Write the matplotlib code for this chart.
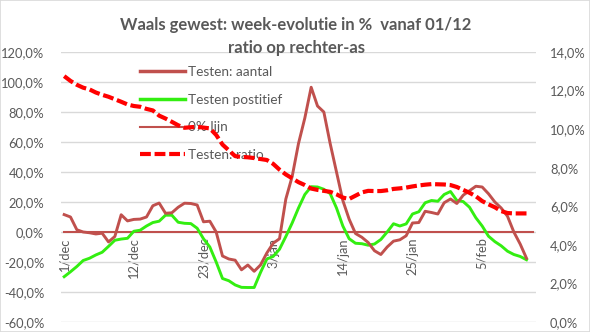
import matplotlib
matplotlib.use("Agg")
import matplotlib.pyplot as plt
from matplotlib.lines import Line2D
from matplotlib.patches import Rectangle
from matplotlib.ticker import FuncFormatter, FixedLocator

plt.rcParams['font.family'] = ['Lato', 'DejaVu Sans']

# dagen vanaf 1 december (75 categorieën, tot 13 februari)
n_days = 75
tick_idx = [0, 11, 22, 33, 44, 55, 66]
tick_labels = ["1/dec", "12/dec", "23/dec", "3/jan", "14/jan", "25/jan", "5/feb"]

# week-evolutie aantal testen (%)
testen_aantal = [11.6, 10, 1.5, 0, -0.5, -1.3, -0.8, -6.6, -3, 11.5,
                 7.4, 8.4, 8.6, 10, 17.5, 19.3, 12.5, 12.8, 16.5, 19.2,
                 19, 18, 6.8, 7.2, 0, -16, -18, -18.8, -25.2, -22,
                 -26.2, -22, -14, -7.5, -4.5, 22, 37, 59, 76, 96.5,
                 84, 80, 59, 40, 21, 8.5, -1, -3.5, -7, -12.5,
                 -15, -10, -6.1, -5.2, -2.5, 6, 6.3, 13.8, 13, 12,
                 19.5, 22, 19, 24.5, 27.5, 30.5, 30, 25.5, 20, 16,
                 10.5, 0, -8, -17.5]

# week-evolutie positieve testen (%)
testen_positief = [-29.8, -26.5, -23, -19, -17.5, -15.3, -13.5, -9.6, -5.5, -4.7,
                   -4.2, 0.5, 1.2, 4, 6.3, 7.2, 11.2, 11.2, 6.5, 5.8,
                   5.6, 2.5, -4.5, -10, -20, -31, -32.5, -35.3, -36.9, -37,
                   -37, -27, -18, -16.3, -11.5, -3, 6, 16, 25, 30.2,
                   30, 28.5, 25.6, 16, 4, -4.5, -7.5, -7.8, -8.8, -8,
                   -5, 0, 5.5, 4, 5.4, 12, 13.5, 19.5, 21, 20.5,
                   25, 27, 21, 20.3, 16.5, 9.5, 4, -2.8, -6.4, -9.2,
                   -12.8, -15, -16.3, -18.5]

nul_lijn = [0] * n_days

# positiviteitsratio (%), rechter-as
testen_ratio = [12.75, 12.5, 12.3, 12.15, 12.06, 11.9, 11.78, 11.68, 11.55, 11.42,
                11.28, 11.2, 11.16, 11.05, 10.97, 10.7, 10.55, 10.38, 10.2, 10.07,
                10.1, 10.12, 10.08, 10.04, 9.7, 9.2, 8.9, 8.6, 8.56, 8.54,
                8.5, 8.45, 8.4, 8.2, 7.9, 7.65, 7.45, 7.25, 7.1, 6.92,
                6.85, 6.8, 6.75, 6.62, 6.45, 6.38, 6.55, 6.72, 6.8, 6.79,
                6.79, 6.83, 6.9, 6.93, 6.97, 7.03, 7.08, 7.12, 7.15, 7.14,
                7.13, 7.1, 7.0, 6.85, 6.7, 6.52, 6.27, 6.1, 5.95, 5.75,
                5.65, 5.63, 5.63, 5.63]

grey = '#595959'
brown = '#C0504D'
green = '#33EE11'

fig = plt.figure(figsize=(5.9, 3.32), dpi=100)
fig.patches.append(Rectangle((0, 0), 1, 1, transform=fig.transFigure,
                             fill=False, edgecolor='#D9D9D9', linewidth=1.2))

ax = fig.add_axes([61 / 590, 1 - 322 / 332, 475 / 590, 270 / 332])
ax2 = ax.twinx()

x = list(range(n_days))
l_aantal, = ax.plot(x[:len(testen_aantal)], testen_aantal, color=brown, lw=2.1, zorder=4)
l_pos, = ax.plot(x[:len(testen_positief)], testen_positief, color=green, lw=2.1, zorder=3)
l_nul, = ax.plot(x, nul_lijn, color=brown, lw=1.5, zorder=2)
l_ratio, = ax2.plot(x[:len(testen_ratio)], testen_ratio, color='#FF0000', lw=3.0,
                    dashes=(2.6, 0.9), dash_capstyle='butt')

ax.set_xlim(-0.5, n_days - 0.5)
ax.set_ylim(-60, 120)
ax2.set_ylim(0, 14)
ax.set_yticks(range(-60, 121, 20))
ax2.set_yticks(range(0, 15, 2))
pct = FuncFormatter(lambda v, p: f"{v:.1f}%".replace('.', ','))
ax.yaxis.set_major_formatter(pct)
ax2.yaxis.set_major_formatter(pct)
ax.grid(axis='y', color='#D9D9D9', lw=1.0)
ax.set_axisbelow(True)

for a in (ax, ax2):
    for s in a.spines.values():
        s.set_visible(False)
    a.tick_params(axis='y', length=0, labelsize=9.3, labelcolor=grey)
ax.tick_params(axis='y', pad=12)
ax2.tick_params(axis='y', pad=10)

# categorie-as ligt op de 0%-lijn
ax.spines['bottom'].set_position(('data', 0))
ax.xaxis.set_major_locator(FixedLocator(tick_idx))
ax.set_xticklabels(tick_labels, rotation=90, va='top', ha='center')
ax.tick_params(axis='x', length=0, pad=4, labelsize=9.3, labelcolor=grey)

fig.text(296 / 590, 1 - 25 / 332, "Waals gewest: week-evolutie in %  vanaf 01/12",
         ha='center', va='center', fontsize=12, fontweight='bold', color=grey)
fig.text(296 / 590, 1 - 48 / 332, "ratio op rechter-as",
         ha='center', va='center', fontsize=12, fontweight='bold', color=grey)

handles = [Line2D([], [], color=brown, lw=2.5),
           Line2D([], [], color=green, lw=2.5),
           Line2D([], [], color=brown, lw=1.5),
           Line2D([], [], color='#FF0000', lw=3.0, dashes=(2.6, 0.9))]
labels = ["Testen: aantal", "Testen postitief", "0% lijn", "Testen: ratio"]
leg = ax.legend(handles, labels, loc='upper left', frameon=False,
                bbox_to_anchor=(140 / 590, 1 - 66 / 332), bbox_transform=fig.transFigure,
                borderpad=0, borderaxespad=0, handlelength=3.3, handletextpad=0.25,
                labelspacing=1.15, fontsize=9.8, labelcolor=grey)
leg.set_zorder(1)

fig.savefig("out.png", dpi=100)
